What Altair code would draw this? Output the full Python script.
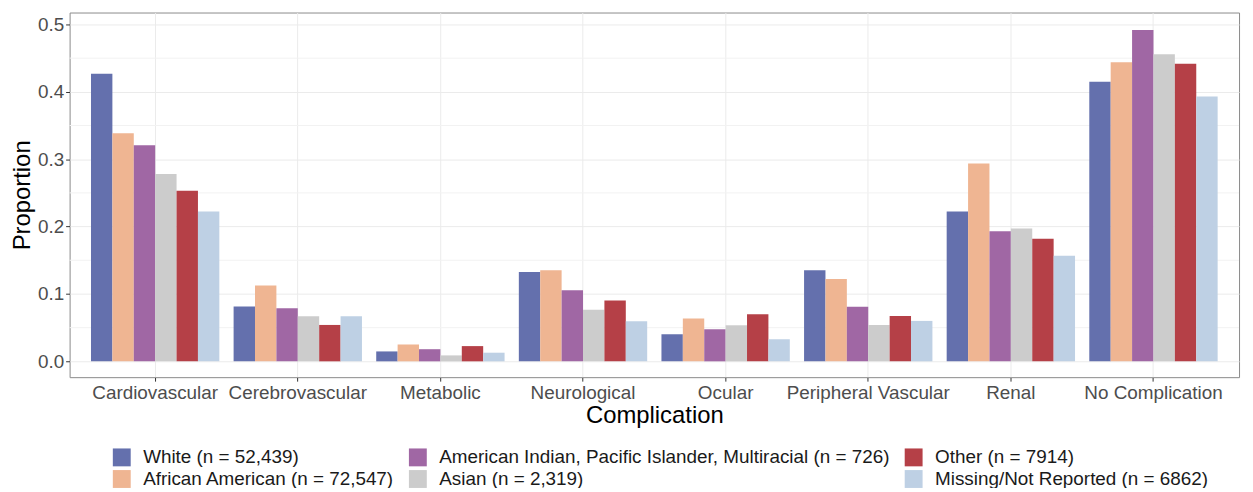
import altair as alt
import pandas as pd

complications = ["Cardiovascular", "Cerebrovascular", "Metabolic", "Neurological",
                 "Ocular", "Peripheral Vascular", "Renal", "No Complication"]

groups = ["White (n = 52,439)",
          "African American (n = 72,547)",
          "American Indian, Pacific Islander, Multiracial (n = 726)",
          "Asian (n = 2,319)",
          "Other (n = 7914)",
          "Missing/Not Reported (n = 6862)"]

colors = ["#6470AD", "#EFB592", "#A067A4", "#CCCCCC", "#B54047", "#BED0E4"]

white = [0.427, 0.0815, 0.0147, 0.1326, 0.0403, 0.135, 0.2225, 0.415]
african_american = [0.3384, 0.1125, 0.025, 0.135, 0.0634, 0.1223, 0.2937, 0.444]
am_indian = [0.3207, 0.0786, 0.018, 0.1056, 0.0476, 0.081, 0.193, 0.4917]
asian = [0.278, 0.0668, 0.0088, 0.0766, 0.0535, 0.054, 0.197, 0.4558]
other = [0.253, 0.054, 0.0226, 0.0904, 0.0697, 0.0673, 0.182, 0.4416]
missing = [0.2225, 0.0668, 0.0128, 0.0594, 0.0329, 0.06, 0.1567, 0.393]

major_breaks = [0.0, 0.1, 0.2, 0.3, 0.4, 0.5]
minor_breaks = [0.05, 0.15, 0.25, 0.35, 0.45]

series = [white, african_american, am_indian, asian, other, missing]
rows = []
for g, vals in zip(groups, series):
    for c, v in zip(complications, vals):
        rows.append({"Complication": c, "Group": g, "Proportion": v})
df = pd.DataFrame(rows)

# legend order (row-major in 3 columns to mimic ggplot's column-major 2-row legend)
legend_order = [groups[0], groups[2], groups[4], groups[1], groups[3], groups[5]]
legend_colors = [colors[0], colors[2], colors[4], colors[1], colors[3], colors[5]]

W, H = 1177, 367
ydom = [-0.0235, 0.5177]
FONT = "Liberation Sans"

minor_df = pd.DataFrame({"v": minor_breaks})
minor = alt.Chart(minor_df).mark_rule(color="#F2F2F2", strokeWidth=1).encode(
    y=alt.Y("v:Q", scale=alt.Scale(domain=ydom, nice=False, zero=False)),
    x=alt.value(0), x2=alt.value(W),
)

bars = alt.Chart(df).mark_bar().encode(
    x=alt.X("Complication:N", sort=complications,
            scale=alt.Scale(paddingInner=0.1, paddingOuter=0.15),
            axis=alt.Axis(title="Complication", labelAngle=0, bandPosition=0.5,
                          grid=True, gridColor="#EBEBEB", domain=False,
                          tickColor="#333333", tickSize=4, labelPadding=2,
                          labelFontSize=19, labelColor="#4D4D4D", labelFont=FONT,
                          titleFont=FONT, titleFontSize=24, titleFontWeight="normal",
                          titleColor="#000000", titlePadding=2)),
    xOffset=alt.XOffset("Group:N", sort=groups, scale=alt.Scale(paddingInner=0, paddingOuter=0)),
    y=alt.Y("Proportion:Q", scale=alt.Scale(domain=ydom, nice=False, zero=False),
            axis=alt.Axis(title="Proportion", values=major_breaks, format=".1f",
                          grid=True, gridColor="#EBEBEB", domain=False,
                          tickColor="#333333", tickSize=4, labelPadding=2,
                          labelFontSize=19, labelColor="#4D4D4D", labelFont=FONT,
                          titleFont=FONT, titleFontSize=24, titleFontWeight="normal",
                          titleColor="#000000", titlePadding=3)),
    color=alt.Color("Group:N", scale=alt.Scale(domain=legend_order, range=legend_colors),
                    legend=alt.Legend(title=None, orient="none", legendX=43, legendY=438,
                                      columns=3, direction="horizontal",
                                      symbolType="square", symbolSize=324,
                                      symbolStrokeWidth=0, symbolOpacity=1,
                                      labelFont=FONT, labelFontSize=19,
                                      labelColor="#1A1A1A", labelOffset=12,
                                      rowPadding=2, columnPadding=14,
                                      labelLimit=700)),
)

chart = alt.layer(minor, bars).properties(
    width=W, height=H,
    autosize=alt.AutoSizeParams(type="none"),
    padding={"left": 62, "top": 3, "right": 6, "bottom": 110},
).configure_view(stroke="#8A8A8A", strokeWidth=1)

chart.save("out.html", embed_options={"renderer": "svg", "actions": False})
